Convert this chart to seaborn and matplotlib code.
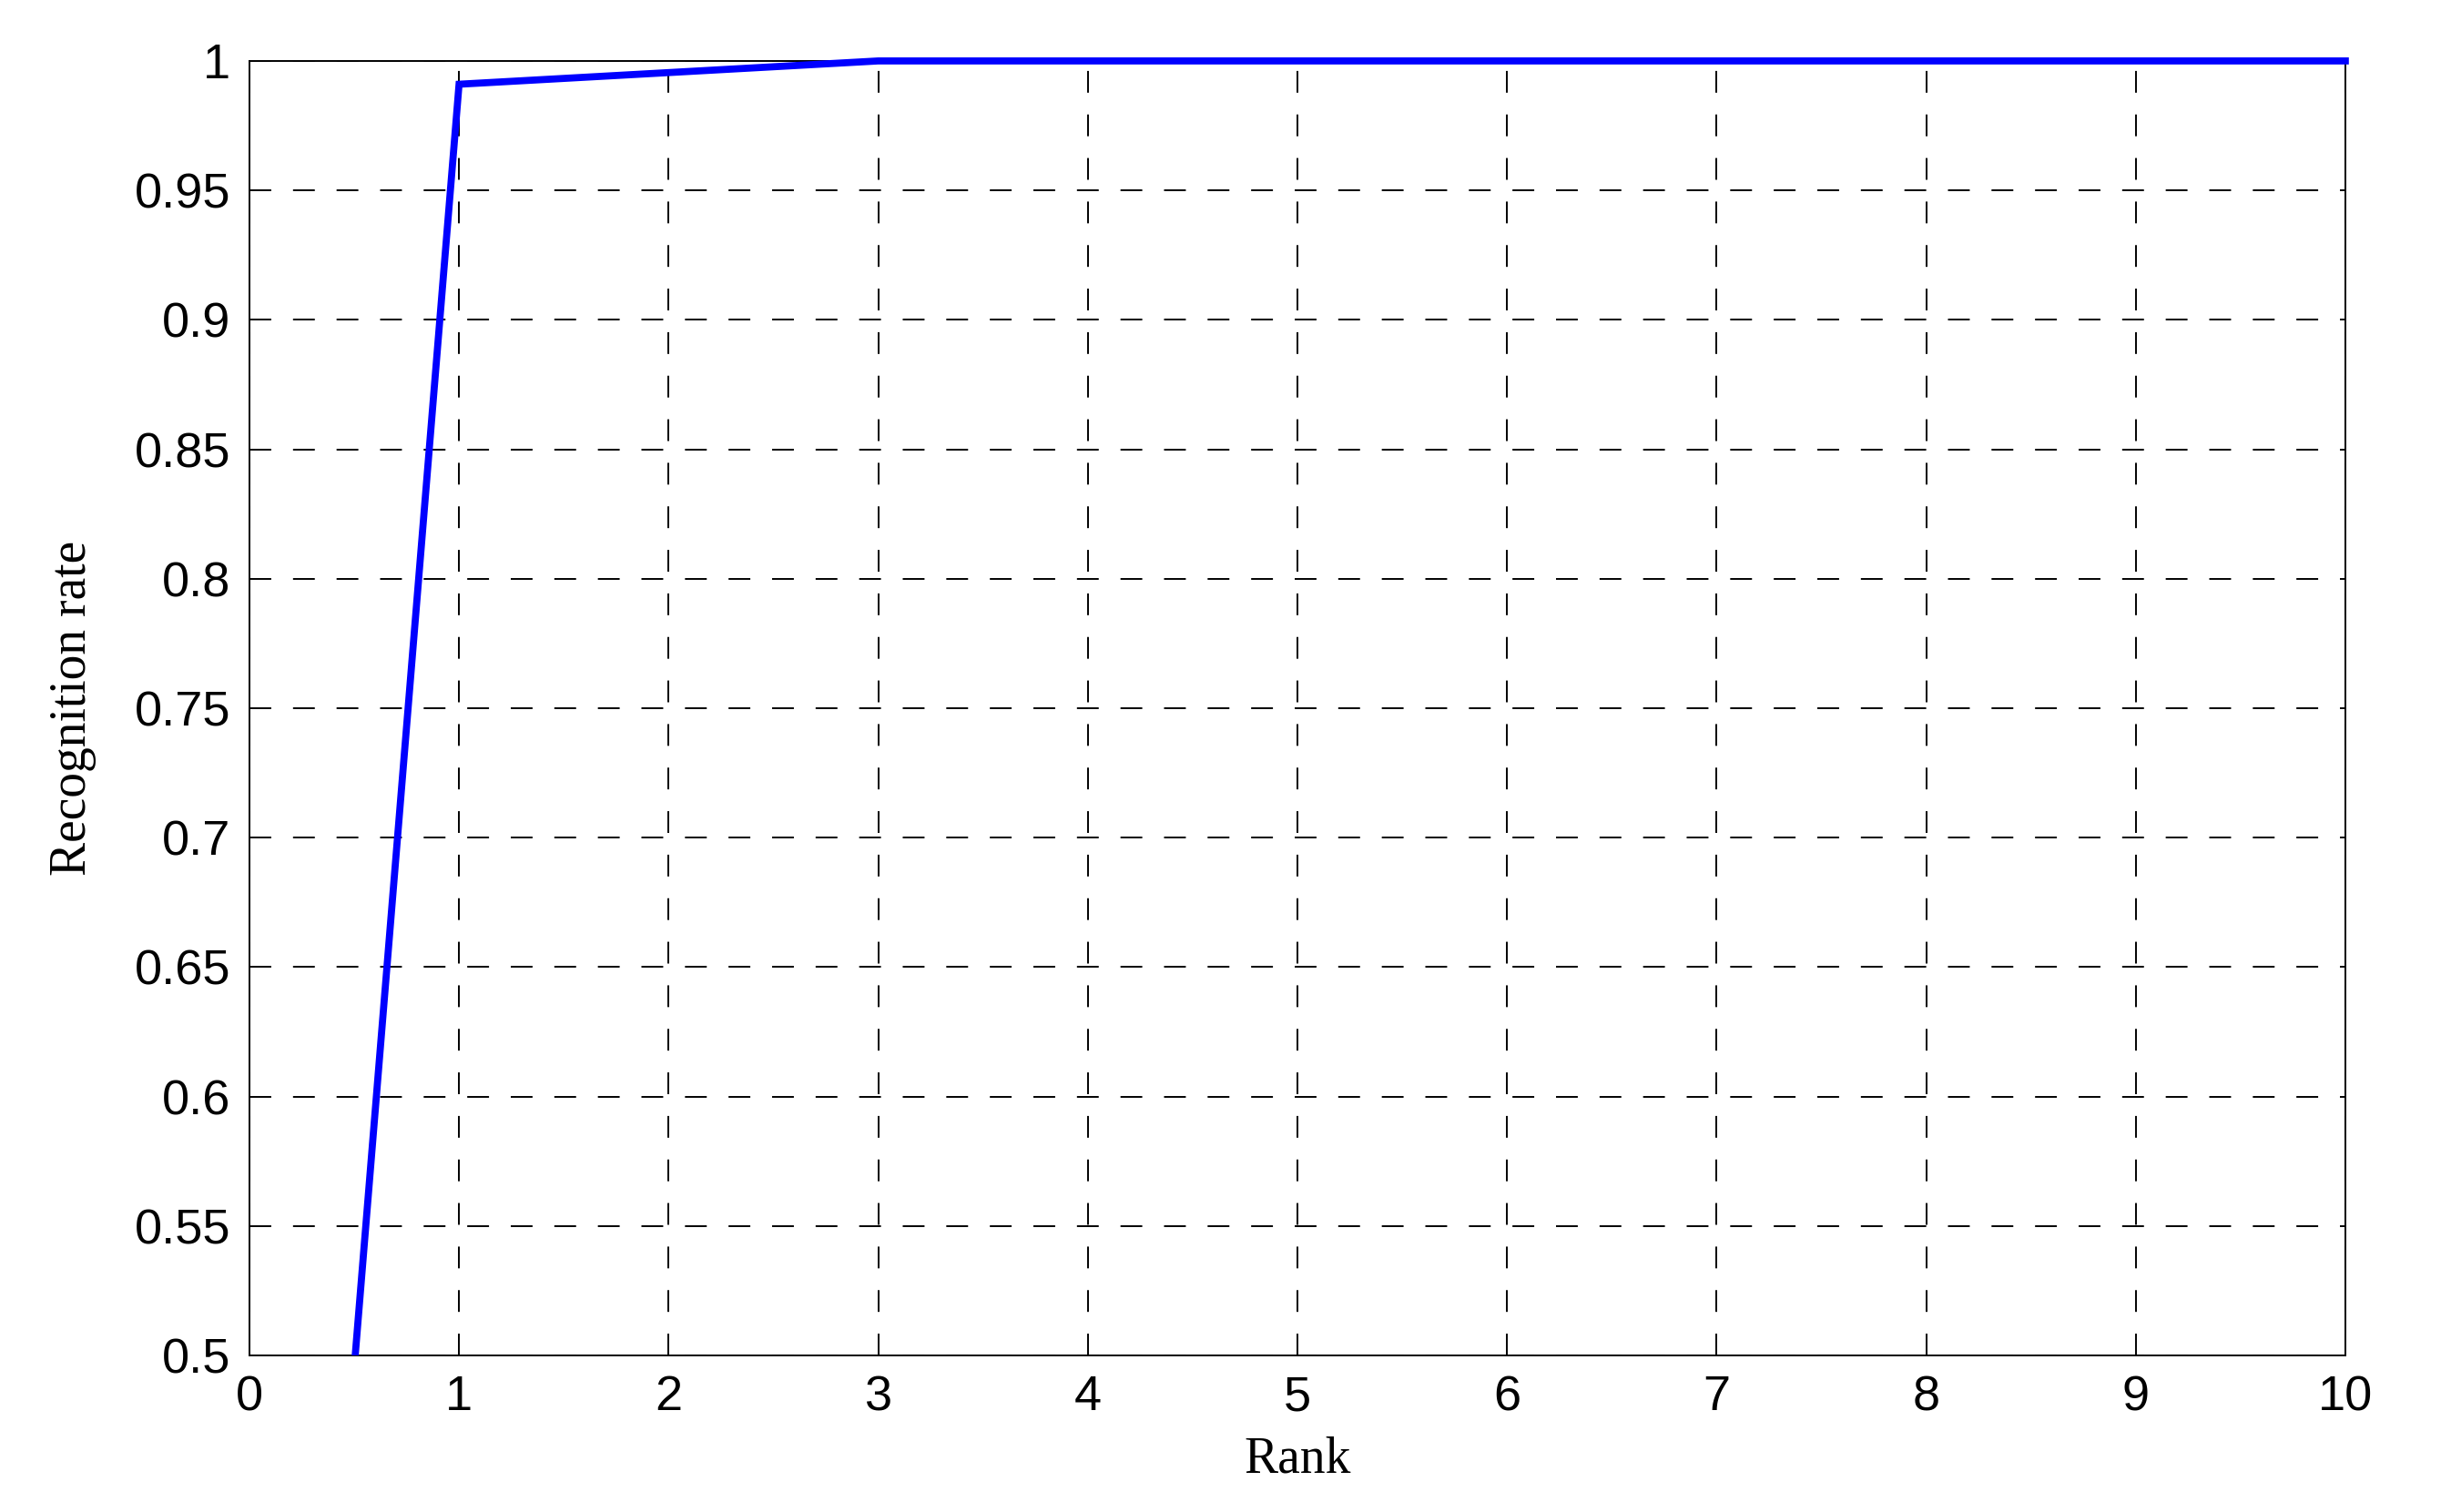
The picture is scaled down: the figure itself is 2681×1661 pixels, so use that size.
import matplotlib
matplotlib.use('Agg')
import matplotlib.pyplot as plt
import seaborn as sns
import pandas as pd
from matplotlib.patches import Rectangle

# datos (curva CMC)
rank = [0, 1, 2, 3, 4, 5, 6, 7, 8, 9, 10]
recognition_rate = [0.0, 0.991, 0.9955, 1.0, 1.0, 1.0, 1.0, 1.0, 1.0, 1.0, 1.0]
x_ticks = [0, 1, 2, 3, 4, 5, 6, 7, 8, 9, 10]
y_ticks = [0.5, 0.55, 0.6, 0.65, 0.7, 0.75, 0.8, 0.85, 0.9, 0.95, 1.0]
y_tick_labels = ['0.5', '0.55', '0.6', '0.65', '0.7', '0.75', '0.8', '0.85', '0.9', '0.95', '1']

df = pd.DataFrame({'rank': rank, 'rate': recognition_rate})

sns.set_style('white')
plt.rcParams['font.family'] = ['Liberation Sans', 'DejaVu Sans']
plt.rcParams['text.color'] = 'black'
plt.rcParams['axes.labelcolor'] = 'black'

fig = plt.figure(figsize=(13.405, 8.305), dpi=200)
ax = fig.add_axes([0.1022, 0.1036, 0.8586, 0.8561])

sns.lineplot(data=df, x='rank', y='rate', ax=ax, color='#0000ff', linewidth=2.8,
             solid_capstyle='projecting', solid_joinstyle='miter', zorder=5)

# recorte como en MATLAB: el trazo grueso puede sobresalir arriba y a la derecha
clip = Rectangle((-0.01, 0.0), 1.02, 1.01, transform=ax.transAxes, facecolor='none')
for line in ax.lines:
    line.set_clip_path(clip)

ax.set_xlim(0, 10)
ax.set_ylim(0.5, 1.0)
ax.set_xticks(x_ticks)
ax.set_yticks(y_ticks)
ax.set_yticklabels(y_tick_labels)

ax.grid(True, color='black', linewidth=0.7, linestyle=(0, (12.3, 12.3)))
ax.set_axisbelow(True)

for side in ['top', 'bottom', 'left', 'right']:
    ax.spines[side].set_visible(True)
    ax.spines[side].set_color('black')
    ax.spines[side].set_linewidth(0.7)

ax.tick_params(axis='both', direction='in', length=0, labelsize=19.5, colors='black', pad=7.6)

ax.set_xlabel('Rank', fontsize=20, family=['Liberation Serif', 'DejaVu Serif'], color='black')
ax.set_ylabel('Recognition rate', fontsize=20, family=['Liberation Serif', 'DejaVu Serif'], color='black')
ax.xaxis.set_label_coords(0.5, -0.062)
ax.yaxis.set_label_coords(-0.0843, 0.5)
ax.yaxis.label.set_va('center')
ax.xaxis.label.set_va('top')

fig.savefig('out.png', dpi=200, facecolor='white')
plt.close()
